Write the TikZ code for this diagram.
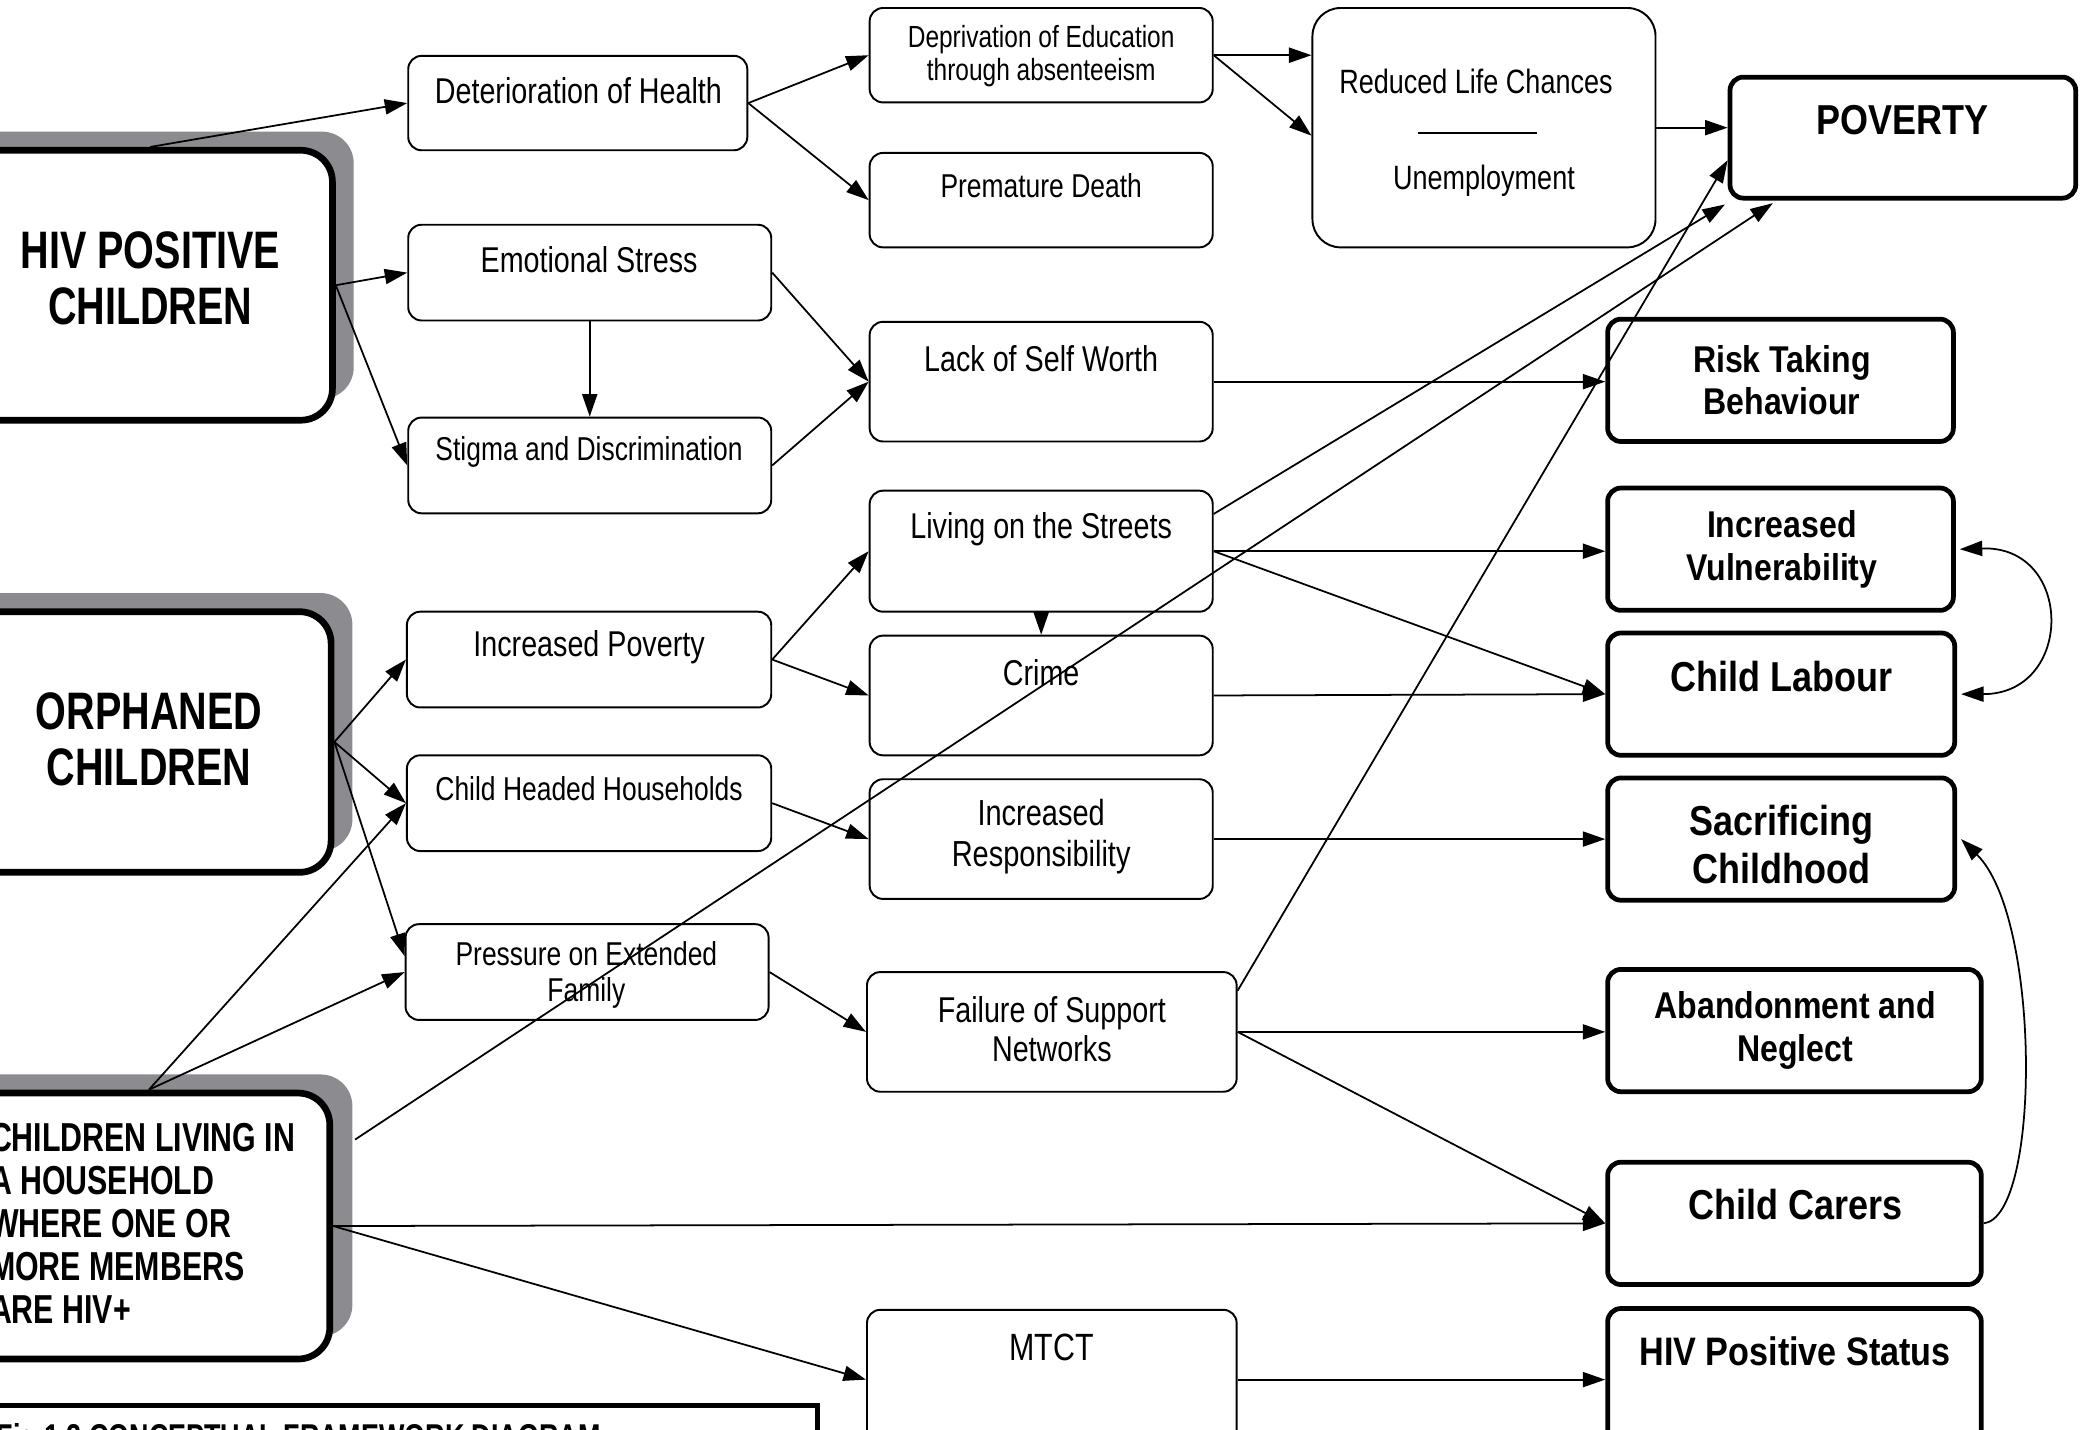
\documentclass[tikz,border=0pt]{standalone}
\usepackage{fontspec}
\setmainfont{Liberation Sans}
\newfontfamily\fa[FakeStretch=0.80]{Liberation Sans}
\newfontfamily\fb[FakeStretch=0.86]{Liberation Sans}
\newfontfamily\fc[FakeStretch=0.75]{Liberation Sans}
\usetikzlibrary{arrows.meta,fit,calc}
\definecolor{shadowgray}{RGB}{140,140,144}
\tikzset{
  sbox/.style={draw, line width=0.55pt, rounded corners=3.8pt, inner sep=0pt, fill=white},
  rbox/.style={draw, line width=0.55pt, rounded corners=8pt, inner sep=0pt, fill=white},
  tbox/.style={draw, line width=1.35pt, rounded corners=3.8pt, inner sep=0pt, fill=white},
  bigbox/.style={draw, line width=1.9pt, rounded corners=9pt, inner sep=0pt, fill=white},
  shad/.style={fill=shadowgray, rounded corners=9pt, inner sep=0pt},
  capbox/.style={draw, line width=1.5pt, inner sep=0pt},
  txt/.style={inner sep=0pt, align=center, font=\fa\fontsize{10.2}{12}\selectfont},
  txs/.style={inner sep=0pt, align=center, font=\fa\fontsize{9.4}{10.3}\selectfont},
  txd/.style={inner sep=0pt, align=center, font=\fa\fontsize{8.7}{9.5}\selectfont},
  bsm/.style={inner sep=0pt, align=center, font=\fb\bfseries\fontsize{10.6}{12.1}\selectfont},
  blg/.style={inner sep=0pt, align=center, font=\fb\bfseries\fontsize{11.9}{13.6}\selectfont},
  big/.style={inner sep=0pt, align=center, font=\fc\bfseries\fontsize{15}{15.9}\selectfont},
  arr/.style={line width=0.5pt, -{Triangle[length=6.4pt,width=4.3pt]}},
  darr/.style={line width=0.5pt, {Triangle[length=6.4pt,width=4.3pt]}-{Triangle[length=6.4pt,width=4.3pt]}},
}
\begin{document}
\begin{tikzpicture}[x=0.013297cm, y=-0.013297cm]
\useasboundingbox (0,0) rectangle (1568,1075);
\clip (0,0) rectangle (1568,1075);
\fill[white] (0,0) rectangle (1568,1075);

% left source boxes with shadows
\node[shad, fit={(-40,99) (266,300)}] (hivsh) {};
\node[bigbox, fit={(-24,113) (250,316)}] (hiv) {};
\node[big] (thiv) at (113,209) {HIV POSITIVE\\CHILDREN};

\node[shad, fit={(-40,446) (265,640)}] (orphsh) {};
\node[bigbox, fit={(-24,460) (249,656)}] (orph) {};
\node[big] (torph) at (112,556) {ORPHANED\\CHILDREN};

\node[shad, fit={(-40,808) (265,1005)}] (chlsh) {};
\node[bigbox, fit={(-24,822) (248,1022)}] (chl) {};
\node[inner sep=0pt, align=left, anchor=west, font=\fc\bfseries\fontsize{11.5}{12.2}\selectfont] (tchl) at (-8,920)
  {CHILDREN LIVING IN\\A HOUSEHOLD\\WHERE ONE OR\\MORE MEMBERS\\ARE HIV+};

% caption box
\node[capbox, fit={(-20,1057) (615,1120)}] (cap) {};
\node[inner sep=0pt, anchor=north west, font=\fc\bfseries\fontsize{10.2}{12}\selectfont] (tcap) at (-3,1070)
  {Fig 1.2 CONCEPTUAL FRAMEWORK DIAGRAM};

% column 2
\node[sbox, fit={(307,42) (562,113)}] (deter) {};
\node[txt] (tdeter) at (435,68) {Deterioration of Health};
\node[sbox, fit={(307,169) (580,241)}] (emo) {};
\node[txt] (temo) at (443,195) {Emotional Stress};
\node[sbox, fit={(307,314) (580,386)}] (stig) {};
\node[txs] (tstig) at (443,340) {Stigma and Discrimination};
\node[sbox, fit={(306,460) (580,532)}] (ipov) {};
\node[txt] (tipov) at (443,487) {Increased Poverty};
\node[sbox, fit={(306,568) (580,640)}] (chh) {};
\node[txs] (tchh) at (443,593) {Child Headed Households};
\node[sbox, fit={(305,695) (578,767)}] (pres) {};
\node[txs] (tpres) at (441,733) {Pressure on Extended\\Family};

% column 3
\node[sbox, fit={(654,6) (912,77)}] (depr) {};
\node[txd] (tdepr) at (783,42) {Deprivation of Education\\through absenteeism};
\node[sbox, fit={(654,115) (912,186)}] (prem) {};
\node[txs] (tprem) at (783,140) {Premature Death};
\node[sbox, fit={(654,242) (912,332)}] (lack) {};
\node[txt] (tlack) at (783,270) {Lack of Self Worth};
\node[sbox, fit={(654,369) (912,460)}] (streets) {};
\node[txt] (tstreets) at (783,398) {Living on the Streets};
\node[sbox, fit={(654,478) (912,568)}] (crime) {};
\node[txt] (tcrime) at (783,506) {Crime};
\node[sbox, fit={(654,586) (912,676)}] (resp) {};
\node[inner sep=0pt, align=center, font=\fa\fontsize{10.3}{11.7}\selectfont] (tresp) at (783,629) {Increased\\Responsibility};
\node[sbox, fit={(652,731) (930,821)}] (fail) {};
\node[inner sep=0pt, align=center, font=\fa\fontsize{10.2}{11.3}\selectfont] (tfail) at (791,774) {Failure of Support\\Networks};
\node[sbox, fit={(652,985) (930,1090)}] (mtct) {};
\node[inner sep=0pt, font=\fa\fontsize{10.8}{12}\selectfont] (tmtct) at (791,1013) {MTCT};

% column 4
\node[rbox, fit={(987,6) (1245,186)}] (red) {};
\node[inner sep=0pt, font=\fa\fontsize{9.6}{11}\selectfont] (tred) at (1110,61) {Reduced Life Chances};
\draw[line width=0.5pt] (1066,100) -- (1156,100);
\node[inner sep=0pt, font=\fa\fontsize{9.6}{11}\selectfont] (tunemp) at (1116,136) {Unemployment};

% right column
\node[tbox, fit={(1301,58) (1561,149)}] (pov) {};
\node[blg] (tpov) at (1431,90) {POVERTY};
\node[tbox, fit={(1209,240) (1469,332)}] (risk) {};
\node[bsm] (trisk) at (1340,286) {Risk Taking\\Behaviour};
\node[tbox, fit={(1209,367) (1469,459)}] (vuln) {};
\node[bsm] (tvuln) at (1340,413) {Increased\\Vulnerability};
\node[tbox, fit={(1209,476) (1470,568)}] (lab) {};
\node[blg] (tlab) at (1340,509) {Child Labour};
\node[tbox, fit={(1209,585) (1470,677)}] (sac) {};
\node[blg] (tsac) at (1340,635) {Sacrificing\\Childhood};
\node[tbox, fit={(1209,729) (1490,821)}] (aban) {};
\node[bsm] (taban) at (1350,775) {Abandonment and\\Neglect};
\node[tbox, fit={(1209,874) (1490,966)}] (carer) {};
\node[blg] (tcarer) at (1350,906) {Child Carers};
\node[tbox, fit={(1209,984) (1490,1090)}] (hivs) {};
\node[inner sep=0pt, font=\fb\bfseries\fontsize{11.3}{13}\selectfont] (thivs) at (1350,1016) {HIV Positive Status};

\coordinate (chlp) at (267,857);

% connectors
\draw[arr] (hiv.north) -- (deter.west);
\draw[arr] (hiv.east) -- (emo.west);
\draw[arr] (hiv.east) -- (stig.west);
\draw[arr] (deter.east) -- (depr.west);
\draw[arr] (deter.east) -- (prem.west);
\draw[arr] (depr.east) -- (depr.east -| red.west);
\draw[arr] (depr.east) -- ($(red.west)+(0,6)$);
\draw[arr] (red.east) -- (red.east -| pov.west);
\draw[arr] (emo.south) -- (stig.north);
\draw[arr] (emo.east) -- (lack.west);
\draw[arr] (stig.east) -- (lack.west);
\draw[arr] (lack.east) -- (lack.east -| risk.west);
\draw[arr] (orph.east) -- (ipov.west);
\draw[arr] (orph.east) -- (chh.west);
\draw[arr] (orph.east) -- ($(pres.west)+(0,-12)$);
\draw[arr] (chl.north) -- (chh.west);
\draw[arr] (chl.north) -- (pres.west);
\draw[arr] (ipov.east) -- (streets.west);
\draw[arr] (ipov.east) -- (crime.west);
\draw[arr] (streets.south) -- (crime.north);
\draw[arr] (chh.east) -- (resp.west);
\draw[arr] (pres.east) -- (fail.west);
\draw[arr] ($(streets.east)+(0,-28)$) -- ($(pov.south west)+(-2,3)$);
\draw[arr] (streets.east) -- (streets.east -| vuln.west);
\draw[arr] (streets.east) -- (lab.west);
\draw[arr] (crime.east) -- (lab.west);
\draw[arr] (resp.east) -- (sac.west);
\draw[arr] (fail.east) -- (fail.east -| aban.west);
\draw[arr] (fail.east) -- (carer.west);
\draw[arr] ($(fail.east)+(0,-31)$) -- ($(pov.west)+(0,17)$);
\draw[arr] (chl.east) -- (carer.west);
\draw[arr] (chl.east) -- (mtct.west);
\draw[arr] (mtct.east) -- (mtct.east -| hivs.west);
\draw[arr] (chlp) -- ($(pov.south west)+(34,2)$);
\draw[darr] ($(vuln.east)+(3,0)$) .. controls (1560,410) and (1560,522) .. ($(lab.east)+(3,0)$);
\draw[arr] (carer.east) .. controls (1535,915) and (1535,690) .. ($(sac.east)+(3,0)$);
\end{tikzpicture}
\end{document}
